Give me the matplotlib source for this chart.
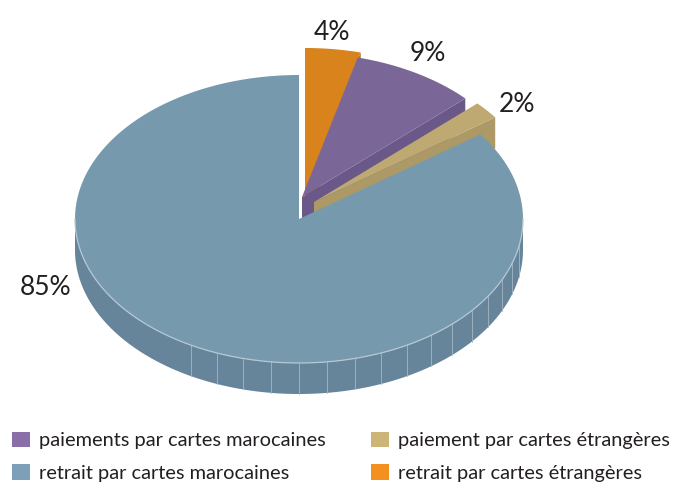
import numpy as np
import matplotlib.pyplot as plt
from matplotlib.patches import Polygon, Patch

# Données
noms = ["retrait par cartes étrangères", "paiements par cartes marocaines",
        "paiement par cartes étrangères", "retrait par cartes marocaines"]
valeurs = [4, 9, 2, 85]
etiquettes = ["4%", "9%", "2%", "85%"]

# Styles
coul_dessus = ["#D8831C", "#7B6797", "#BEA972", "#7799AE"]
coul_cote = ["#B5660F", "#6A5888", "#AD9965", "#67859A"]
coul_legende = ["#F39020", "#8A6EA8", "#CDB57A", "#7DA0B8"]
decal_x = [6, 3, 15, 0]
decal_y = [-27, -22, -17, 0]
lab_r = [1.13, 1.16, 1.14, 1.22]
lab_ang = [84, 61, 37.5, 202]

CX, CY, RX, RY, EP = 299, 219, 224, 144, 31
police = ["Lato", "DejaVu Sans"]


def pt(cx, cy, a, dz=0):
    r = np.radians(a)
    return cx + RX * np.cos(r), cy - RY * np.sin(r) + dz


def arc(cx, cy, a0, a1, dz=0, n=200):
    aa = np.linspace(a0, a1, n)
    r = np.radians(aa)
    return np.column_stack([cx + RX * np.cos(r), cy - RY * np.sin(r) + dz])


fig = plt.figure(figsize=(6.81, 4.84), dpi=100)
ax = fig.add_axes([0, 0, 1, 1])
ax.set_xlim(0, 681)
ax.set_ylim(484, 0)
ax.axis("off")

cumul = np.concatenate([[0], np.cumsum(valeurs)])
for i, v in enumerate(valeurs):
    a_hi = 90 - cumul[i] * 3.6
    a_lo = a_hi - v * 3.6
    cx, cy = CX + decal_x[i], CY + decal_y[i]

    # face radiale visible
    if np.sin(np.radians(a_lo - 90)) < 0 and v < 50:
        ox, oy = pt(cx, cy, a_lo)
        ax.add_patch(Polygon([(cx, cy), (ox, oy), (ox, oy + EP), (cx, cy + EP)],
                             closed=True, fc=coul_cote[i], ec="none"))

    # paroi extérieure (partie avant)
    for s in (-360, 0, 360):
        b0, b1 = max(a_lo, -180 + s), min(a_hi, 0 + s)
        if b1 > b0:
            haut = arc(cx, cy, b0, b1)
            bas = arc(cx, cy, b1, b0, EP)
            ax.add_patch(Polygon(np.vstack([haut, bas]), closed=True,
                                 fc=coul_cote[i], ec="none"))
            for k in range(-29, -13):
                a = 90 + k * 7.2 + s
                if b0 < a < b1:
                    x0, y0 = pt(cx, cy, a)
                    ax.plot([x0, x0], [y0, y0 + EP], color="#A3B8C6", lw=0.6)
            ax.plot(haut[:, 0], haut[:, 1], color="#B5C8D4", lw=0.9)

    # dessus
    dessus = np.vstack([[cx, cy], arc(cx, cy, a_lo, a_hi)])
    ax.add_patch(Polygon(dessus, closed=True, fc=coul_dessus[i], ec="none"))

    # étiquette
    r = np.radians(lab_ang[i])
    ax.text(cx + RX * lab_r[i] * np.cos(r), cy - RY * lab_r[i] * np.sin(r),
            etiquettes[i], ha="center", va="center_baseline", fontsize=19,
            color="#231F20", family=police)

# Légende
ordre = [1, 3, 2, 0]
poignees = [Patch(fc=coul_legende[j], ec="none", label=noms[j]) for j in ordre]
fig.legend(handles=poignees, ncol=2, loc="lower left",
           bbox_to_anchor=(12 / 681, 2 / 484), frameon=False,
           borderpad=0, borderaxespad=0,
           handlelength=0.88, handleheight=0.82, handletextpad=0.45,
           columnspacing=2.3, labelspacing=0.75,
           prop={"family": police, "size": 14.4}, labelcolor="#231F20")

fig.savefig("out.png", dpi=100)
